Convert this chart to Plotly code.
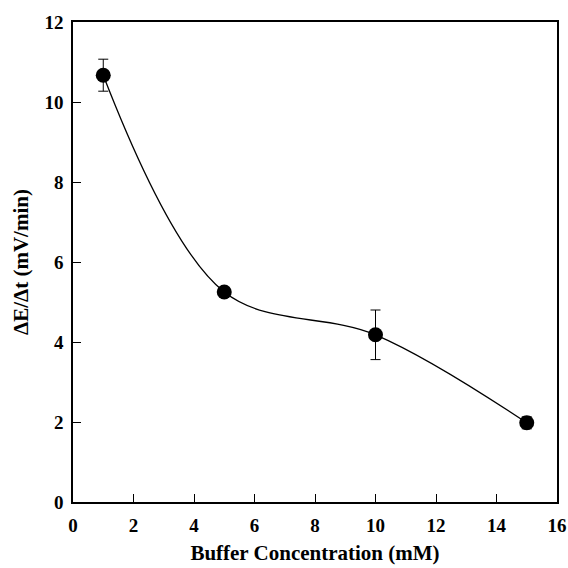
import plotly.graph_objects as go

conc = [1, 5, 10, 15]
rate = [10.67, 5.25, 4.18, 1.98]
err = [0.4, 0.05, 0.62, 0.15]
x_ticks = [0, 2, 4, 6, 8, 10, 12, 14, 16]
y_ticks = [0, 2, 4, 6, 8, 10, 12]

font = "'Liberation Serif', 'Times New Roman', Times, serif"
fig = go.Figure()
fig.add_trace(go.Scatter(
    x=conc, y=rate, mode="lines+markers",
    line=dict(color="black", width=1.3, shape="spline", smoothing=1.0),
    marker=dict(color="black", size=15, symbol="circle"),
    error_y=dict(type="data", array=err, visible=True, color="black", thickness=1, width=5),
    showlegend=False,
))
fig.update_layout(
    width=568, height=568,
    margin=dict(l=73, r=11, t=22, b=66),
    paper_bgcolor="white", plot_bgcolor="white",
    font=dict(family=font, size=16, color="black"),
)
fig.update_xaxes(
    range=[0, 16], tickvals=x_ticks, ticktext=[f"<b>{v}</b>" for v in x_ticks],
    ticks="inside", ticklen=8, tickcolor="black", tickwidth=1,
    showline=True, linecolor="black", linewidth=1.5, mirror=True,
    showgrid=False, zeroline=False, ticklabelstandoff=5, automargin=False,
    tickfont=dict(family=font, size=19, color="black"),
    title=dict(text="<b>Buffer Concentration (mM)</b>", font=dict(family=font, size=21), standoff=11),
)
fig.update_yaxes(
    range=[0, 12], tickvals=y_ticks, ticktext=[f"<b>{v}</b>" for v in y_ticks],
    ticks="inside", ticklen=8, tickcolor="black", tickwidth=1,
    showline=True, linecolor="black", linewidth=1.5, mirror=True,
    showgrid=False, zeroline=False, ticklabelstandoff=4, automargin=False,
    tickfont=dict(family=font, size=19, color="black"),
    title=dict(text="<b>ΔE/Δt (mV/min)</b>", font=dict(family=font, size=21), standoff=10),
)
fig.write_html("out.html")
